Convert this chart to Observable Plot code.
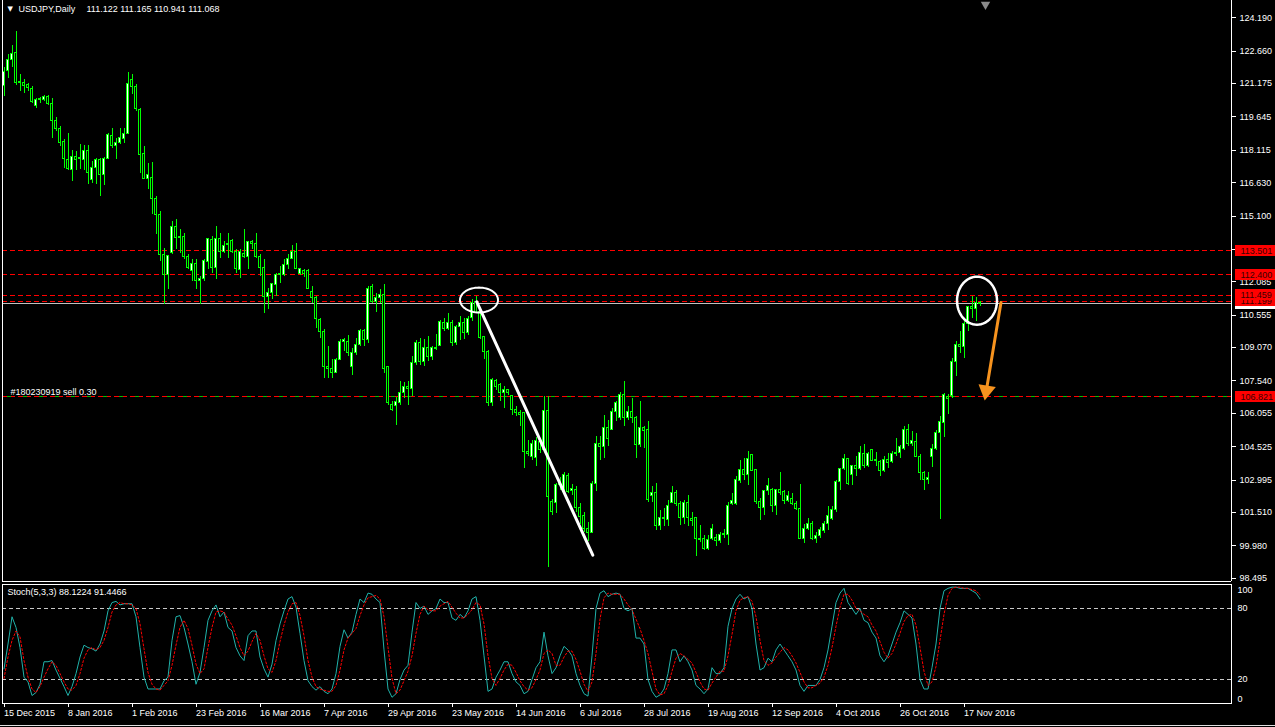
<!DOCTYPE html>
<html>
<head>
<meta charset="utf-8">
<script src="https://cdn.jsdelivr.net/npm/d3@7"></script>
<script src="https://cdn.jsdelivr.net/npm/@observablehq/plot@0.6"></script>
<style>
  html, body { margin: 0; padding: 0; background: #000; overflow: hidden; }
  #chart { width: 1275px; height: 727px; background: #000; }
  #chart svg { display: block; }
</style>
</head>
<body>
<div id="chart"></div>
<script>
// ---------------- DATA ----------------
// Daily bars, index 0 = 15 Dec 2015 ... index 244 = 23 Nov 2016
const opens = [
  121.05,121.73,122.25,122.57,121.20,121.20,121.10,120.93,120.15,120.40,
  120.43,120.55,120.25,119.47,119.10,118.50,117.68,117.20,117.80,117.70,
  117.67,118.09,116.75,117.30,117.68,116.96,117.70,118.75,118.29,118.44,
  118.64,118.85,121.35,121.01,119.97,117.93,116.79,116.84,115.87,115.15,
  113.32,112.40,113.40,114.59,114.08,114.13,113.24,112.56,112.91,112.10,
  112.22,113.01,114.01,112.71,114.04,113.47,113.75,113.96,113.46,112.63,
  113.35,113.21,113.89,113.82,113.21,112.71,111.41,111.56,111.94,112.40,
  112.40,112.86,113.12,113.47,112.45,112.60,112.56,111.64,111.32,110.33,
  109.80,108.19,108.07,107.91,108.52,109.34,109.34,108.19,108.80,109.18,
  109.82,109.41,111.86,111.17,111.35,111.48,108.16,106.43,106.38,106.54,
  106.99,107.24,107.15,108.34,109.26,108.42,109.03,108.65,109.03,109.15,
  110.21,109.92,110.21,109.26,109.99,110.21,109.72,110.41,111.17,110.71,
  109.54,108.88,106.51,107.55,107.35,107.00,107.12,106.84,106.23,106.05,
  106.05,104.26,104.06,104.00,104.75,104.37,106.17,102.00,101.95,102.76,
  102.45,103.17,102.50,102.56,101.73,101.34,100.77,100.57,102.83,104.67,
  104.49,105.36,105.30,106.12,105.82,106.89,105.82,106.12,105.82,104.59,
  105.39,105.28,102.27,102.38,100.89,101.26,101.18,101.95,102.42,101.89,
  101.27,101.96,101.23,101.27,100.31,100.27,99.85,100.28,100.33,100.20,
  100.46,100.46,101.89,101.89,102.96,103.45,103.22,104.13,103.45,101.99,
  101.72,102.48,102.56,101.80,102.53,102.45,102.04,102.14,101.92,101.69,
  100.31,100.74,100.97,100.31,100.43,100.66,101.00,101.23,101.64,102.91,
  103.48,103.94,103.22,103.63,103.48,104.20,103.63,104.36,103.87,103.83,
  103.42,103.91,103.83,104.18,104.24,104.44,105.28,104.67,104.75,104.06,
  103.32,102.99,104.03,104.44,105.13,105.62,106.81,106.84,108.42,109.18,
  109.08,110.15,110.91,110.82,111.122
];
const highs = [
  121.90,122.49,122.90,123.56,121.58,121.38,121.20,121.04,120.50,120.55,
  120.63,120.62,120.51,119.60,119.20,118.60,118.87,118.10,118.06,118.40,
  118.32,118.32,117.60,117.75,117.75,117.80,118.88,119.10,118.67,119.13,
  119.13,121.70,121.60,121.12,120.05,118.29,117.52,117.55,116.00,115.30,
  113.60,113.30,114.85,114.93,114.47,114.31,113.32,113.09,113.09,112.33,
  113.12,114.08,114.16,114.62,114.31,113.93,114.31,114.01,113.55,113.55,
  114.47,113.93,113.99,114.31,113.32,113.09,111.79,112.02,112.48,112.78,
  113.09,113.32,113.73,113.82,112.71,112.66,112.63,111.87,111.40,110.40,
  109.90,109.10,108.50,108.57,109.44,109.49,109.64,109.03,109.49,109.92,
  109.90,111.86,111.94,111.55,111.74,111.94,108.22,106.58,106.78,107.50,
  107.45,107.50,108.65,109.41,109.49,109.44,109.56,109.14,109.69,110.33,
  110.40,110.64,110.33,110.10,110.48,110.40,110.48,111.28,111.43,110.79,
  109.60,108.95,107.65,107.60,107.42,107.30,107.15,106.89,106.35,106.20,
  106.07,104.79,104.82,104.95,104.85,106.84,106.84,102.10,102.84,103.10,
  103.32,103.30,102.80,102.70,101.90,101.50,101.05,102.91,104.98,104.98,
  105.97,105.74,106.28,106.58,106.99,107.50,106.35,106.74,105.89,106.58,
  105.47,105.67,102.71,102.83,101.58,101.69,102.04,102.68,102.53,101.99,
  102.07,102.30,101.53,101.30,100.90,100.46,100.46,100.97,100.51,100.61,
  100.72,101.95,102.38,103.14,103.91,103.98,104.32,104.18,103.48,102.14,
  102.53,103.06,102.60,102.56,103.34,102.53,102.48,102.38,101.99,102.80,
  100.97,101.23,101.08,100.61,100.81,101.08,101.80,101.80,102.99,103.52,
  104.18,103.98,103.68,104.09,104.52,104.64,104.24,104.39,104.24,103.91,
  104.09,104.21,104.29,104.90,104.60,105.44,105.56,105.20,105.13,104.18,
  103.37,103.32,104.64,105.28,105.92,106.97,106.93,108.57,109.37,109.79,
  110.25,110.97,111.40,111.37,111.165
];
const lows = [
  120.60,121.42,121.90,121.10,120.80,120.74,120.80,120.28,120.05,120.28,
  120.35,120.15,118.67,118.97,118.29,117.30,117.20,116.70,117.20,117.25,
  117.20,116.53,116.60,116.53,115.99,116.50,117.67,118.20,117.68,118.40,
  118.44,118.82,120.66,119.90,117.06,116.76,116.30,115.15,114.24,113.00,
  111.03,111.71,113.32,113.55,113.40,113.09,112.63,112.10,111.71,111.03,
  112.10,112.63,112.48,112.17,113.17,113.40,113.17,113.40,112.48,112.25,
  113.17,112.63,113.55,113.17,112.33,110.64,110.80,111.26,111.41,112.02,
  112.33,112.63,113.09,112.63,112.36,112.30,111.71,111.10,109.95,109.49,
  107.65,107.65,107.65,107.88,108.49,108.88,108.65,107.80,108.72,109.11,
  109.11,109.26,111.09,110.67,111.09,107.88,106.43,106.12,105.51,106.43,
  106.74,106.43,106.81,108.26,108.26,108.22,108.42,108.49,108.95,109.11,
  109.80,109.87,109.11,109.18,109.41,109.45,109.64,110.25,110.64,109.45,
  108.50,106.35,106.35,107.12,106.58,106.28,106.89,105.97,105.90,105.43,
  103.52,104.06,103.90,103.60,104.20,104.30,98.98,101.38,101.46,102.50,
  102.41,102.40,102.30,101.50,100.95,100.60,100.20,100.54,102.45,103.91,
  103.98,104.52,105.28,105.67,105.74,105.44,105.74,105.59,103.98,104.50,
  104.44,101.95,101.95,100.66,100.69,100.85,100.85,101.92,101.76,100.92,
  100.97,100.85,100.85,99.51,100.13,99.77,99.77,100.23,99.93,100.08,
  100.31,100.00,101.84,101.84,102.83,102.99,102.76,103.37,101.89,101.15,
  101.38,102.30,101.53,101.38,102.30,101.89,101.95,101.84,101.58,100.27,
  100.08,100.66,100.23,100.08,100.31,100.54,100.69,101.15,101.53,102.53,
  103.42,102.76,102.76,103.14,103.42,103.52,103.57,103.83,103.60,103.14,
  103.32,103.52,103.75,104.06,103.98,104.36,104.52,104.52,104.03,102.99,
  102.53,102.80,103.57,104.36,101.18,104.95,106.01,106.73,107.76,108.80,
  108.57,109.79,110.41,110.25,110.941
];
const closes = [
  121.70,122.26,122.55,121.20,121.25,121.08,120.96,120.33,120.43,120.45,
  120.55,120.23,119.44,119.08,118.47,117.70,117.25,117.80,117.67,117.75,
  118.09,117.06,117.30,117.68,116.96,117.70,118.82,118.30,118.47,118.67,
  118.85,121.16,121.00,120.00,117.90,116.79,116.96,115.87,115.15,113.32,
  112.40,113.27,114.59,114.08,114.12,113.24,112.71,112.91,112.10,112.22,
  113.06,114.04,112.71,114.04,113.47,113.73,113.80,113.43,112.66,113.43,
  113.21,113.89,113.82,113.21,112.71,111.41,111.56,111.99,112.40,112.45,
  112.86,113.12,113.47,112.66,112.66,112.45,111.74,111.33,110.36,109.80,
  108.19,108.07,107.91,108.52,109.34,109.41,108.80,108.80,109.21,109.82,
  109.41,111.74,111.17,111.35,111.48,108.11,106.51,106.20,106.58,106.99,
  107.24,107.15,108.34,109.26,108.42,109.03,108.65,109.03,109.00,110.25,
  109.92,110.21,109.26,109.99,110.21,109.72,110.36,111.12,110.67,109.49,
  108.88,106.51,107.58,107.27,107.00,107.12,107.00,106.23,106.05,106.00,
  104.26,104.18,104.67,104.79,104.37,106.17,102.22,101.55,102.76,102.90,
  103.22,102.45,102.60,101.73,101.31,100.77,100.57,102.83,104.67,104.49,
  105.36,104.90,106.12,106.51,106.89,105.82,106.12,105.82,104.59,105.39,
  105.25,102.07,102.38,100.89,101.26,101.20,101.80,102.42,101.89,101.27,
  101.96,101.27,101.10,100.31,100.25,99.85,100.23,100.77,100.20,100.46,
  100.51,101.80,102.02,102.99,103.45,103.22,103.94,103.42,101.99,101.72,
  102.48,102.71,101.80,102.53,102.38,102.04,102.27,101.92,101.69,100.31,
  100.74,100.97,100.31,100.43,100.69,101.00,101.33,101.64,102.91,103.48,
  103.94,102.83,103.63,103.50,104.24,103.63,104.18,103.87,103.90,103.42,
  103.91,103.80,104.18,104.24,104.52,105.28,104.67,104.78,104.06,103.32,
  102.99,103.08,104.44,105.16,105.67,106.89,106.69,108.42,109.18,109.08,
  110.15,110.91,110.82,111.13,111.068
];
// Stochastic (5,3,3): main %K and signal %D per bar
const stochK = [
  29,50,73,64,47,22,18,6.5,9,16,
  35,35,36,28,21,14,6.5,14,25,39,
  49,47,46,44,50,61,78,85,86,83,
  84,84,84,73,47,22,12,12,12,12,
  19,22,53,73,74,64,50,35,16,26,
  47,70,78,83,73,77,64,61,47,40,
  36,57,61,61,39,29,22,33,53,67,
  78,88,90,81,59,36,19,14,11,14,
  10,8,12,25,48,62,55,60,75,88,
  85,93,92,88,85,45,12,5,8,20,
  28,32,60,85,80,82,75,78,80,88,
  85,85,72,70,75,72,78,88,90,70,
  40,10,12,22,28,35,35,25,18,15,
  8,10,20,30,35,60,40,25,30,40,
  48,45,40,25,15,8,6,40,80,93,
  95,90,92,93,92,80,78,80,55,55,
  50,20,10,5,7,12,25,45,45,35,
  40,35,28,15,12,8,12,30,25,25,
  30,65,80,88,92,88,90,80,50,28,
  30,38,35,45,50,45,40,35,28,15,
  10,15,15,15,20,30,45,65,85,93,
  97,85,80,75,80,70,68,60,55,40,
  35,40,50,60,68,78,75,72,50,20,
  12,12,30,50,80,95,97,98,98,97,
  97,97,95,93,88.1224
];
const stochD = [
  21,39,53,61,56,36,22,12,9,14,
  22,29,35,32,25,18,12,11,15,25,
  38,45,47,45,47,53,64,77,83,85,
  84,84,83,80,67,46,26,16,12,11,
  15,19,32,49,64,70,63,49,33,25,
  29,47,64,77,78,77,71,66,57,47,
  40,44,52,59,53,40,29,26,36,52,
  66,77,84,85,74,57,36,22,14,12,
  11,10,10,15,28,45,55,59,63,74,
  83,89,90,91,88,73,47,21,8,11,
  19,27,40,59,75,82,79,78,78,82,
  84,86,81,76,72,72,75,79,85,83,
  67,40,21,15,21,28,33,32,26,19,
  14,11,13,20,28,42,45,42,32,32,
  39,44,44,37,27,16,10,18,42,71,
  89,93,92,92,92,88,83,79,71,63,
  53,42,27,12,7,8,15,27,38,42,
  40,37,34,26,18,12,11,17,22,27,
  27,40,58,78,87,89,90,86,73,53,
  36,32,34,39,43,47,45,40,34,26,
  18,13,13,15,17,22,32,47,65,81,
  92,92,87,80,78,75,73,66,61,52,
  43,38,42,50,59,69,74,75,66,47,
  27,15,18,31,53,75,91,97,98,98,
  97,97,96,95,91.4466
];
const dateTickIndex = [0,16,32,48,64,80,96,112,128,144,160,176,192,208,224,240];
const dateTickLabels = ["15 Dec 2015","8 Jan 2016","1 Feb 2016","23 Feb 2016","16 Mar 2016","7 Apr 2016",
  "29 Apr 2016","23 May 2016","14 Jun 2016","6 Jul 2016","28 Jul 2016","19 Aug 2016","12 Sep 2016",
  "4 Oct 2016","26 Oct 2016","17 Nov 2016"];
const priceTicks = [124.190,122.660,121.175,119.645,118.115,116.630,115.100,113.570,112.085,
  110.555,109.070,107.540,106.055,104.525,102.995,101.510,99.980,98.495];
const stochLevels = [80, 20];
const redLevels = [113.501, 112.400, 111.459, 111.199];
const orderLevel = 106.821;
const bidLevel = 111.068;
const symbolText = "USDJPY,Daily";
const ohlcText = "111.122 111.165 110.941 111.068";
const stochText = "Stoch(5,3,3) 88.1224 91.4466";
const orderText = "#180230919 sell 0.30";
// annotations (bar index, price)
const trendStart = [118.2, 111.17], trendEnd = [147.2, 99.55];
const ellipse1 = { c: [118.75, 111.25], r: [4.75, 0.57] };
const ellipse2 = { c: [243.25, 111.22], r: [5.0, 1.10] };
const arrowStart = [249.25, 111.14], arrowTip = [245.3, 106.78];

// ---------------- LAYOUT / STYLE ----------------
const FONT = "'Liberation Sans', Arial, sans-serif";
const LIME = "#00ff00";
const RED = "#ff0000";
const CRISP = "crispEdges";
const W = 1275;
const ML = 2, MR = 44;
const xDomain = [-0.375, 306.875];          // 4 px per bar
const yDomain = [98.344, 124.983];
const MAIN_H = 583, MAIN_MB = 2;
const pxPerBar = (W - ML - MR) / (xDomain[1] - xDomain[0]);
const pricePerPx = (yDomain[1] - yDomain[0]) / (MAIN_H - MAIN_MB);
const pxToBar = px => xDomain[0] + (px - ML) / pxPerBar;

const bars = opens.map((o, i) => ({ i, o, h: highs[i], l: lows[i], c: closes[i], bull: closes[i] >= o }));

const ellipsePts = e => d3.range(65).map(k => {
  const t = 2 * Math.PI * k / 64;
  return { i: e.c[0] + e.r[0] * Math.cos(t), p: e.c[1] + e.r[1] * Math.sin(t) };
});

// arrow head placement
const dxPx = (arrowTip[0] - arrowStart[0]) * pxPerBar;
const dyPx = -(arrowTip[1] - arrowStart[1]) / pricePerPx;
const len = Math.hypot(dxPx, dyPx);
const headBack = 7;
const headCenter = [arrowTip[0] - dxPx / len * headBack / pxPerBar, arrowTip[1] + dyPx / len * headBack * pricePerPx];
const headAngle = Math.atan2(dxPx, -dyPx) * 180 / Math.PI;

// price labels on the right scale
const labelH = 5.5 * pricePerPx;
const labelList = [
  { p: bidLevel, fill: "#ffffff", text: "" },
  { p: orderLevel, fill: RED, text: orderLevel.toFixed(3) },
  { p: 111.199, fill: RED, text: "111.199" },
  { p: 111.459, fill: RED, text: "111.459" },
  { p: 112.400, fill: RED, text: "112.400" },
  { p: 113.501, fill: RED, text: "113.501" }
];
const labelMarks = labelList.flatMap(L => [
  Plot.rect([L], { x1: pxToBar(1235), x2: pxToBar(1276), y1: d => d.p - labelH, y2: d => d.p + labelH, fill: d => d.fill, shapeRendering: CRISP }),
  Plot.text([L], { y: d => d.p, frameAnchor: "right", dx: 9, textAnchor: "start", text: d => d.text, fill: "#3a0000", fontSize: 9 })
]);

const main = Plot.plot({
  width: W, height: MAIN_H,
  marginTop: 0, marginBottom: MAIN_MB, marginLeft: ML, marginRight: MR,
  style: { background: "#000", color: "#fff", fontFamily: FONT, fontSize: "9px" },
  x: { domain: xDomain, axis: null },
  y: { domain: yDomain },
  marks: [
    Plot.ruleY(redLevels, { stroke: RED, strokeDasharray: "5,3", shapeRendering: CRISP }),
    Plot.ruleY([bidLevel], { stroke: "#c0c0c0", shapeRendering: CRISP }),
    Plot.ruleY([orderLevel], { stroke: RED, strokeDasharray: "5,3", shapeRendering: CRISP }),
    Plot.ruleY([orderLevel], { stroke: "#00c000", strokeDasharray: "4,12", strokeDashoffset: -5, shapeRendering: CRISP }),
    // candles
    Plot.ruleX(bars, { x: "i", y1: "l", y2: "h", stroke: LIME, shapeRendering: CRISP }),
    Plot.rect(bars, { x1: d => d.i - 0.375, x2: d => d.i + 0.375, y1: "o", y2: "c", fill: LIME, insetTop: -0.5, insetBottom: -0.5, shapeRendering: CRISP }),
    Plot.rect(bars, { x1: d => d.i - 0.125, x2: d => d.i + 0.125, y1: "o", y2: "c", fill: d => d.bull ? "#ffffff" : "#000000", insetTop: 0.5, insetBottom: 0.5, shapeRendering: CRISP }),
    // annotations
    Plot.line([{ i: trendStart[0], p: trendStart[1] }, { i: trendEnd[0], p: trendEnd[1] }], { x: "i", y: "p", stroke: "#fff", strokeWidth: 3 }),
    Plot.line(ellipsePts(ellipse1), { x: "i", y: "p", stroke: "#fff", strokeWidth: 2, curve: "linear" }),
    Plot.line(ellipsePts(ellipse2), { x: "i", y: "p", stroke: "#fff", strokeWidth: 2.5, curve: "linear" }),
    Plot.line([{ i: arrowStart[0], p: arrowStart[1] }, { i: headCenter[0], p: headCenter[1] }], { x: "i", y: "p", stroke: "#f7931e", strokeWidth: 3 }),
    Plot.dot([headCenter], { x: d => d[0], y: d => d[1], symbol: "triangle", r: 6.5, fill: "#f7931e", rotate: headAngle }),
    // texts
    Plot.text([orderLevel], { y: d => d, frameAnchor: "left", dx: 8, dy: -2, lineAnchor: "bottom", textAnchor: "start", text: () => orderText, fill: "#fff", fontSize: 9 }),
    Plot.text(["\u25BC"], { frameAnchor: "top-left", dx: 5, dy: 6, text: d => d, fill: "#fff", fontSize: 7, fontFamily: "DejaVu Sans" }),
    Plot.text([symbolText], { frameAnchor: "top-left", dx: 16, dy: 5, text: d => d, fill: "#fff", fontSize: 9 }),
    Plot.text([ohlcText], { frameAnchor: "top-left", dx: 84, dy: 5, text: d => d, fill: "#fff", fontSize: 9 }),
    // panel border (left, right, bottom)
    Plot.ruleX([xDomain[0], xDomain[1]], { stroke: "#fff", shapeRendering: CRISP }),
    Plot.ruleY([yDomain[0]], { stroke: "#fff", shapeRendering: CRISP }),
    Plot.axisY(priceTicks, { anchor: "right", tickSize: 4, tickPadding: 4, tickFormat: d => d.toFixed(3), fontSize: 9, shapeRendering: CRISP }),
    ...labelMarks,
    Plot.dot([[pxToBar(985), yDomain[1] - 4 * pricePerPx]], { x: d => d[0], y: d => d[1], symbol: "triangle", r: 3.5, fill: "#8a8a8a", rotate: 180 })
  ]
});

const ST_H = 144, ST_MT = 1.3, ST_MB = 24.3;
const stPerPx = 100 / (ST_H - ST_MT - ST_MB);
const stoch = Plot.plot({
  width: W, height: ST_H,
  marginTop: ST_MT, marginBottom: ST_MB, marginLeft: ML, marginRight: MR,
  style: { background: "#000", color: "#fff", fontFamily: FONT, fontSize: "9px" },
  x: { domain: xDomain },
  y: { domain: [0, 100], axis: null },
  marks: [
    Plot.ruleY(stochLevels, { stroke: "#c8c8c8", strokeDasharray: "4,3", shapeRendering: CRISP }),
    Plot.line(stochK, { x: (d, i) => i, y: d => d, stroke: "#20b2aa", strokeWidth: 1 }),
    Plot.line(stochD, { x: (d, i) => i, y: d => d, stroke: RED, strokeWidth: 1, strokeDasharray: "2,2" }),
    Plot.frame({ stroke: "#fff", shapeRendering: CRISP }),
    Plot.axisX(dateTickIndex, { anchor: "bottom", tickSize: 4, tickPadding: 2, textAnchor: "start",
      tickFormat: d => dateTickLabels[dateTickIndex.indexOf(d)], fontSize: 9, shapeRendering: CRISP }),
    Plot.text([stochText], { frameAnchor: "top-left", dx: 5, dy: 4, text: d => d, fill: "#fff", fontSize: 9 }),
    Plot.text(["100"], { frameAnchor: "top-right", dx: 6, dy: 2, textAnchor: "start", text: d => d, fill: "#fff", fontSize: 9 }),
    Plot.text(stochLevels, { y: d => d, frameAnchor: "right", dx: 6, textAnchor: "start", text: d => String(d), fill: "#fff", fontSize: 9 }),
    Plot.text(["0"], { frameAnchor: "bottom-right", dx: 6, dy: -1, lineAnchor: "bottom", textAnchor: "start", text: d => d, fill: "#fff", fontSize: 9 }),
    Plot.ruleY([-22.3 * stPerPx], { x1: pxToBar(0), x2: pxToBar(1276), stroke: "#e0e0e0", shapeRendering: CRISP })
  ]
});

const root = document.getElementById("chart");
root.appendChild(main);
root.appendChild(stoch);
</script>
</body>
</html>
